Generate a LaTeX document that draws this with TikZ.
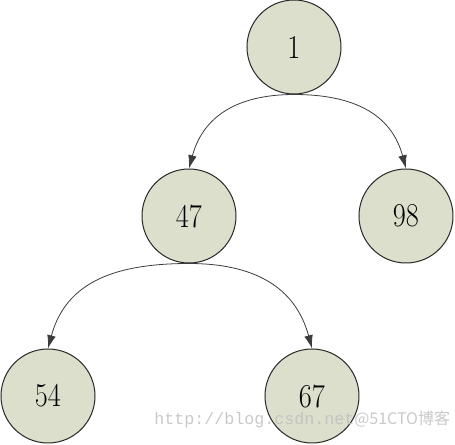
\documentclass[tikz,border=0pt]{standalone}
\usepackage{fontspec}
\setmonofont{Liberation Mono}
\newfontfamily\cjk{Noto Sans CJK SC}
\usetikzlibrary{arrows.meta}
\definecolor{nodefill}{RGB}{220,223,204}
\definecolor{edgecol}{RGB}{60,60,60}
\tikzset{
  treenode/.style={circle, draw=black!85, line width=0.75pt, fill=nodefill,
    minimum size=70.5pt, inner sep=0pt,
    font=\fontsize{25}{25}\selectfont},
  treeedge/.style={draw=edgecol, line width=0.6pt,
    -{Latex[length=10pt,width=6.5pt]}},
  wmark/.style={text=black!25, inner sep=0pt, opacity=0.85}
}
\newcommand{\nlabel}[1]{\scalebox{0.85}[1]{#1}}
\begin{document}
\begin{tikzpicture}[x=0.75pt,y=-0.75pt]
\useasboundingbox (0,0) rectangle (455,445);
\node[treenode] (n1)  at (294,47)  {\nlabel{1}};
\node[treenode] (n47) at (189,216) {\nlabel{47}};
\node[treenode] (n98) at (406,216) {\nlabel{98}};
\node[treenode] (n54) at (48,396)  {\nlabel{54}};
\node[treenode] (n67) at (312,396) {\nlabel{67}};
\draw[treeedge] (n1.south) to[out=180,in=75,looseness=1.1] (n47.north);
\draw[treeedge] (n1.south) to[out=0,in=105,looseness=1.1] (n98.north);
\draw[treeedge] (n47.south) to[out=180,in=75,looseness=1.1] (n54.north);
\draw[treeedge] (n47.south) to[out=0,in=105,looseness=1.1] (n67.north);
\node[wmark, anchor=base west] (wm) at (154,425)
  {\fontsize{12.5}{12.5}\selectfont\ttfamily http://blog.csdn.net\cjk\fontsize{12}{12}\selectfont @51CTO博客};
\end{tikzpicture}
\end{document}
